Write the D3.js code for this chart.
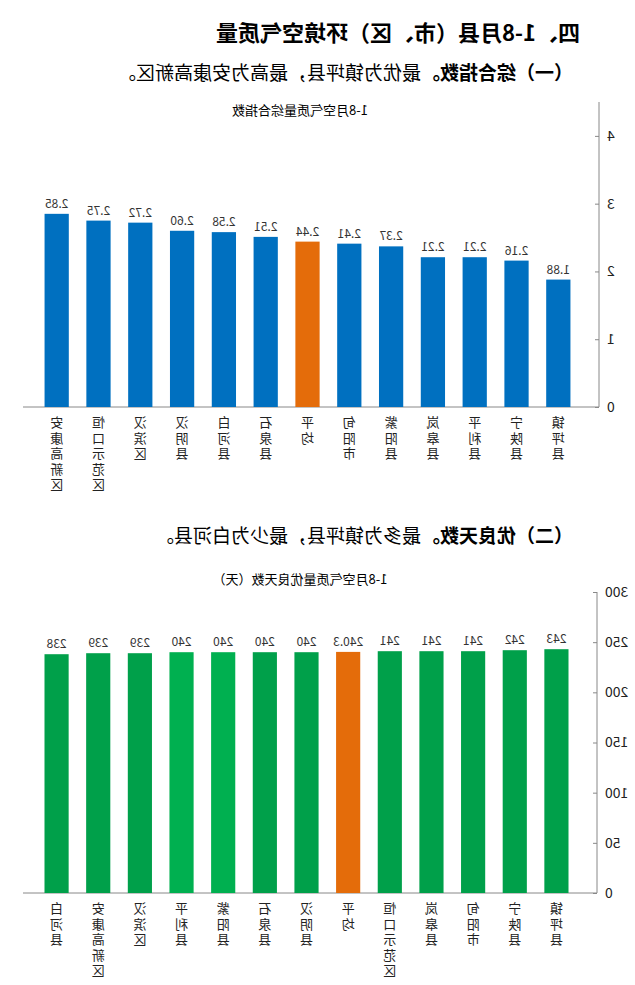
<!DOCTYPE html>
<html><head><meta charset="utf-8">
<script src="https://cdn.jsdelivr.net/npm/d3@7"></script>
<style>body{margin:0;background:#fff}text{font-family:"Noto Sans CJK SC",sans-serif}</style>
</head><body>
<script>
// data for the two charts (the reference picture is mirrored, so everything is drawn flipped)
var indexNames = ['镇坪县','宁陕县','平利县','岚皋县','紫阳县','旬阳市','平均','石泉县','白河县','汉阴县','汉滨区','恒口示范区','安康高新区'];
var indexValues = [1.88,2.16,2.21,2.21,2.37,2.41,2.44,2.51,2.58,2.60,2.72,2.75,2.85];
var indexLabels = ['1.88','2.16','2.21','2.21','2.37','2.41','2.44','2.51','2.58','2.60','2.72','2.75','2.85'];
var daysNames = ['镇坪县','宁陕县','旬阳市','岚皋县','恒口示范区','平均','汉阴县','石泉县','紫阳县','平利县','汉滨区','安康高新区','白河县'];
var daysValues = [243,242,241,241,241,240.3,240,240,240,240,239,239,238];
var indexTicks = [0,1,2,3,4];
var daysTicks = [0,50,100,150,200,250,300];

var W = 635, H = 985;
var svg = d3.select('body').append('svg').attr('width', W).attr('height', H);
var g = svg.append('g').attr('transform', 'translate(' + W + ',0) scale(-1,1)');

g.append('text').attr('x', 55).attr('y', 41).attr('font-size', 22).attr('font-weight', 'bold')
	.text('四、1-8月县（市、区）环境空气质量');

function subtitle(y, bold, rest) {
	var t = g.append('text').attr('x', 62).attr('y', y).attr('font-size', 19);
	t.append('tspan').attr('font-weight', 'bold').text(bold);
	t.append('tspan').text(rest);
}
subtitle(80, '（一）综合指数。', '最优为镇坪县，最高为安康高新区。');
subtitle(543, '（二）优良天数。', '最多为镇坪县，最少为白河县。');

function drawChart(opt) {
	var x = d3.scaleBand().domain(opt.names).range([opt.x0, opt.x1]).padding(0.42);
	var y = d3.scaleLinear().domain(opt.domain).range([opt.y0, opt.yTop]);

	g.append('text').attr('x', 335).attr('y', opt.titleY).attr('text-anchor', 'middle')
		.attr('font-size', 13).text(opt.title);

	var ax = g.append('g').attr('transform', 'translate(' + opt.axisX + ',0)')
		.call(d3.axisLeft(y).tickValues(opt.ticks).tickFormat(d3.format('d')).tickSize(-4).tickPadding(8));
	ax.select('.domain').attr('stroke', '#888').attr('d', 'M0,' + opt.y0 + 'V' + opt.yTop);
	ax.selectAll('.tick line').attr('stroke', '#888');
	ax.selectAll('.tick text').attr('font-size', 14).attr('fill', '#222')
		.attr('font-family', 'Liberation Serif, serif');
	// baseline
	g.append('line').attr('x1', opt.axisX).attr('x2', opt.x1 + 4).attr('y1', opt.y0).attr('y2', opt.y0)
		.attr('stroke', '#888');

	g.selectAll(null).data(opt.values).enter().append('rect')
		.attr('x', function(d, i) { return x(opt.names[i]); })
		.attr('y', function(d) { return y(d); })
		.attr('width', x.bandwidth())
		.attr('height', function(d) { return opt.y0 - y(d); })
		.attr('fill', function(d, i) { return opt.color(opt.names[i]); });

	g.selectAll(null).data(opt.values).enter().append('text')
		.attr('x', function(d, i) { return x(opt.names[i]) + x.bandwidth() / 2; })
		.attr('y', function(d) { return y(d) - 6; })
		.attr('text-anchor', 'middle').attr('font-size', 12).attr('fill', '#333')
		.attr('font-family', 'Liberation Serif, serif')
		.text(function(d, i) { return opt.labels[i]; });

	opt.names.forEach(function(n) {
		n.split('').forEach(function(c, k) {
			g.append('text').attr('x', x(n) + x.bandwidth() / 2).attr('y', opt.y0 + 20 + k * 15.5)
				.attr('text-anchor', 'middle').attr('font-size', 13).attr('fill', '#222').text(c);
		});
	});
}

drawChart({
	names: indexNames, values: indexValues, labels: indexLabels,
	domain: [0, 4.5], ticks: indexTicks, x0: 47, x1: 608, axisX: 36, y0: 407, yTop: 102,
	title: '1-8月空气质量综合指数', titleY: 115,
	color: function(n) { return n === '平均' ? '#e46c0a' : '#0070c0'; }
});

drawChart({
	names: daysNames, values: daysValues, labels: daysValues.map(String),
	domain: [0, 300], ticks: daysTicks, x0: 49, x1: 608, axisX: 38, y0: 893, yTop: 592,
	title: '1-8月空气质量优良天数（天）', titleY: 584,
	color: function(n) {
		if (n === '平均') return '#e46c0a';
		return (n === '平利县' || n === '紫阳县') ? '#00b050' : '#00a04a';
	}
});
</script>
</body></html>
